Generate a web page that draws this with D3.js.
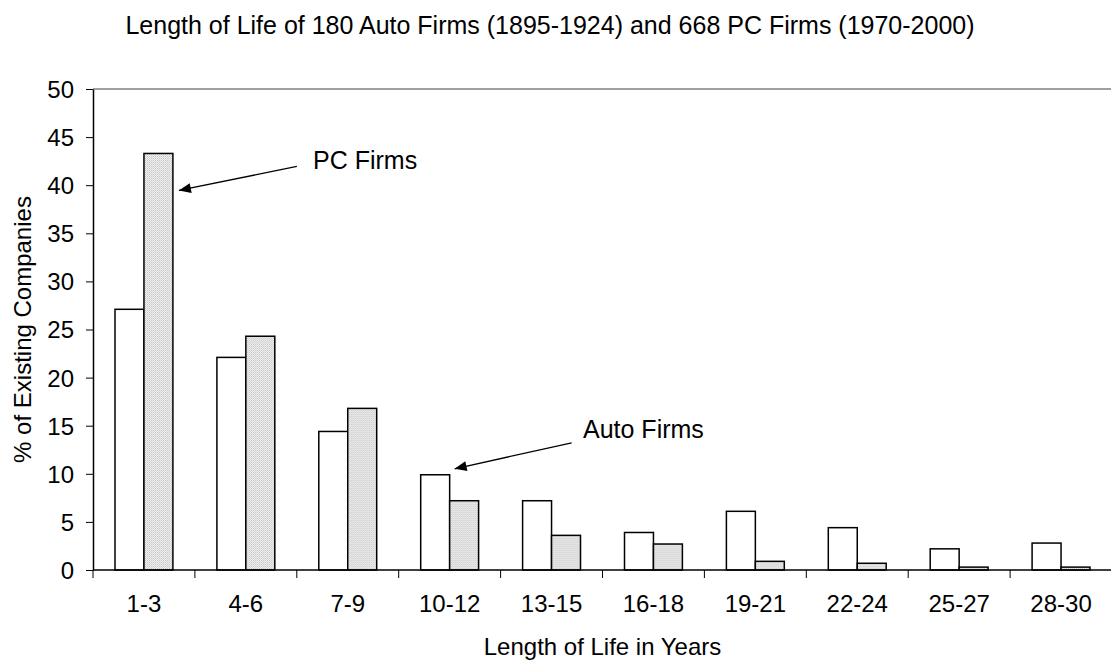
<!DOCTYPE html>
<html>
<head>
<meta charset="utf-8">
<script src="https://cdn.jsdelivr.net/npm/d3@7"></script>
<style>
  body { margin: 0; background: #fff; }
  svg text { font-family: Arial, "Liberation Sans", sans-serif; fill: #000; }
</style>
</head>
<body>
<svg id="chart" width="1111" height="666"></svg>
<script>
const categories = ['1-3', '4-6', '7-9', '10-12', '13-15', '16-18', '19-21', '22-24', '25-27', '28-30'];
const autoFirms = [27.1, 22.1, 14.4, 9.9, 7.2, 3.9, 6.1, 4.4, 2.2, 2.8];
const pcFirms = [43.3, 24.3, 16.8, 7.2, 3.6, 2.7, 0.9, 0.7, 0.3, 0.3];
const yTicks = [0, 5, 10, 15, 20, 25, 30, 35, 40, 45, 50];
const seriesNames = ['Auto Firms', 'PC Firms'];

const svg = d3.select('#chart');
const margin = {left: 93, top: 89, right: 1112, bottom: 570};

// dotted fill for PC bars
const defs = svg.append('defs');
const pat = defs.append('pattern')
  .attr('id', 'dots')
  .attr('width', 2).attr('height', 2)
  .attr('patternUnits', 'userSpaceOnUse');
pat.append('rect').attr('width', 2).attr('height', 2).attr('fill', '#eeeeee');
pat.append('rect').attr('width', 1).attr('height', 1).attr('fill', '#c8c8c8');
pat.append('rect').attr('x', 1).attr('y', 1).attr('width', 1).attr('height', 1).attr('fill', '#d8d8d8');

const x = d3.scaleBand().domain(categories).range([margin.left, margin.right]).padding(0);
const xSub = d3.scaleBand().domain(seriesNames).range([22, x.bandwidth() - 22]).padding(0);
const y = d3.scaleLinear().domain([0, 50]).range([margin.bottom, margin.top]);

// plot area top border
svg.append('line')
  .attr('x1', margin.left).attr('x2', 1111)
  .attr('y1', y(50)).attr('y2', y(50))
  .attr('stroke', '#808080').attr('stroke-width', 1.5);

// title
svg.append('text')
  .attr('x', 550).attr('y', 34)
  .attr('text-anchor', 'middle')
  .style('font-size', '25px')
  .text('Length of Life of 180 Auto Firms (1895-1924) and 668 PC Firms (1970-2000)');

// bars
const rows = categories.map((c, i) => ({cat: c, values: [autoFirms[i], pcFirms[i]]}));
const groups = svg.append('g').selectAll('g')
  .data(rows)
  .join('g')
  .attr('transform', d => `translate(${x(d.cat)},0)`);

groups.selectAll('rect')
  .data(d => d.values.map((v, j) => ({key: seriesNames[j], value: v})))
  .join('rect')
  .attr('x', d => xSub(d.key))
  .attr('width', xSub.bandwidth())
  .attr('y', d => y(d.value))
  .attr('height', d => y(0) - y(d.value))
  .attr('fill', d => d.key === 'PC Firms' ? 'url(#dots)' : '#fff')
  .attr('stroke', '#000')
  .attr('stroke-width', 1.5);

// y axis
const yAxis = svg.append('g')
  .attr('transform', `translate(${margin.left},0)`)
  .call(d3.axisLeft(y).tickValues(yTicks).tickSize(7).tickPadding(12).tickSizeOuter(0));
yAxis.selectAll('text').style('font-size', '24px').attr('dy', '0.35em');

// x axis
const xAxis = svg.append('g')
  .attr('transform', `translate(0,${y(0)})`)
  .call(d3.axisBottom(x).tickSize(0).tickPadding(25).tickSizeOuter(0));
xAxis.selectAll('text').style('font-size', '24px').attr('dy', '0.71em');
xAxis.selectAll('.tick line').remove();
// tick marks at category edges
xAxis.selectAll('line.edge')
  .data(categories)
  .join('line')
  .attr('class', 'edge')
  .attr('x1', d => x(d)).attr('x2', d => x(d))
  .attr('y1', 0).attr('y2', 8)
  .attr('stroke', '#000');
xAxis.select('.domain').attr('d', `M${margin.left},0H1111`);

svg.selectAll('.domain').attr('stroke', '#000').attr('stroke-width', 1.5);

// axis titles
svg.append('text')
  .attr('x', (margin.left + margin.right) / 2).attr('y', 655)
  .attr('text-anchor', 'middle')
  .style('font-size', '24px')
  .text('Length of Life in Years');

svg.append('text')
  .attr('transform', `translate(31,${(y(0) + y(50)) / 2}) rotate(-90)`)
  .attr('text-anchor', 'middle')
  .style('font-size', '24px')
  .text('% of Existing Companies');

// annotations with arrows
defs.append('marker')
  .attr('id', 'arrow')
  .attr('viewBox', '0 0 12 10')
  .attr('refX', 12).attr('refY', 5)
  .attr('markerWidth', 13).attr('markerHeight', 10)
  .attr('markerUnits', 'userSpaceOnUse')
  .attr('orient', 'auto')
  .append('path').attr('d', 'M0,0L12,5L0,10z').attr('fill', '#000');

const pcTip = [x('1-3') + xSub('PC Firms') + xSub.bandwidth() + 6, y(pcFirms[0]) + 37];
const autoTip = [x('10-12') + xSub('Auto Firms') + xSub.bandwidth() + 5, y(autoFirms[3]) - 6];

const notes = [
  {label: 'PC Firms', tip: pcTip, tail: [pcTip[0] + 118, pcTip[1] - 24], tx: 313, ty: 169},
  {label: 'Auto Firms', tip: autoTip, tail: [autoTip[0] + 117, autoTip[1] - 26], tx: 583, ty: 438}
];

notes.forEach(n => {
  svg.append('line')
    .attr('x1', n.tail[0]).attr('y1', n.tail[1])
    .attr('x2', n.tip[0]).attr('y2', n.tip[1])
    .attr('stroke', '#000').attr('stroke-width', 1.3)
    .attr('marker-end', 'url(#arrow)');
  svg.append('text')
    .attr('x', n.tx).attr('y', n.ty)
    .style('font-size', '25px')
    .text(n.label);
});
</script>
</body>
</html>
